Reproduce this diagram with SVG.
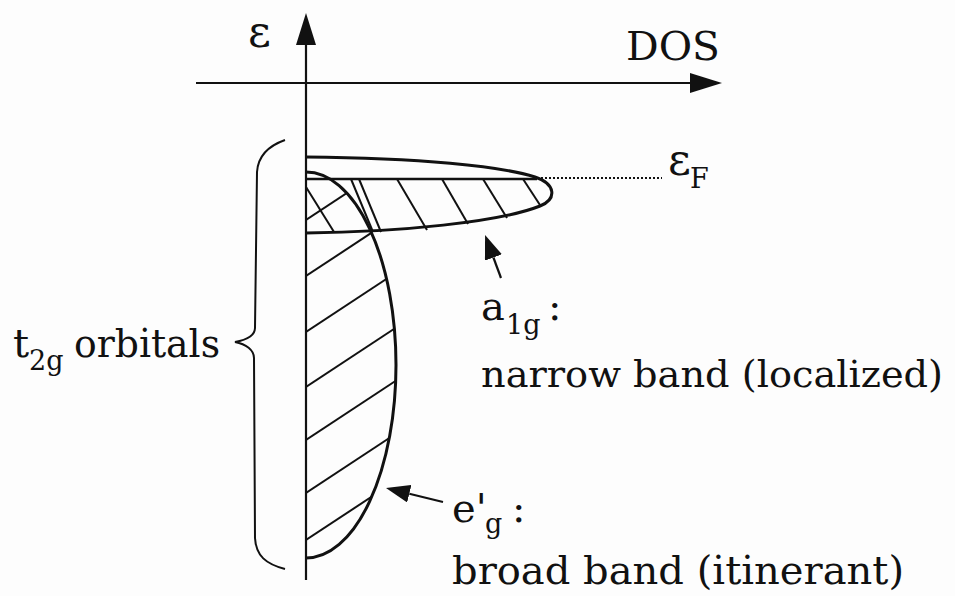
<svg xmlns="http://www.w3.org/2000/svg" width="955" height="596" viewBox="0 0 955 596">
  <style>
    .bg { fill: #fdfdfd; }
    .axis { stroke: #111; stroke-width: 2.2; fill: none; }
    .outline { stroke: #111; stroke-width: 3; fill: none; }
    .hatch { stroke: #111; stroke-width: 2; fill: none; }
    .brace { stroke: #111; stroke-width: 2; fill: none; }
    .dotted { stroke: #111; stroke-width: 2; stroke-dasharray: 2 2; fill: none; }
    text { font-family: 'DejaVu Serif', serif; font-size: 40px; fill: #111; }
    .sub { font-size: 27px; }
    .eps { font-size: 44px; }
  </style>
  <defs>
    <marker id="bigHead" viewBox="0 0 32 20" markerWidth="32" markerHeight="20" markerUnits="userSpaceOnUse" refX="0" refY="10" orient="auto">
      <path d="M0,0 L32,10 L0,20 Z" fill="#111"/>
    </marker>
    <marker id="smallHead" viewBox="0 0 24 18" markerWidth="24" markerHeight="18" markerUnits="userSpaceOnUse" refX="0" refY="9" orient="auto">
      <path d="M0,0 L24,9 L0,18 Z" fill="#111"/>
    </marker>
    <clipPath id="egClip">
      <path d="M306,172 A90,193 0 0 1 306,558 Z"/>
    </clipPath>
  </defs>

  <rect class="bg" x="0" y="0" width="955" height="596"/>

  <g id="axes">
    <line class="axis" x1="306" y1="580" x2="306" y2="45" marker-end="url(#bigHead)"/>
    <line class="axis" x1="196" y1="83" x2="690" y2="83" marker-end="url(#bigHead)"/>
    <text class="eps" x="248" y="47">ε</text>
    <text x="626" y="60" textLength="94" lengthAdjust="spacingAndGlyphs">DOS</text>
  </g>

  <g id="eg-band">
    <g clip-path="url(#egClip)">
      <line class="hatch" x1="306" y1="220" x2="400" y2="158"/>
      <line class="hatch" x1="306" y1="276" x2="400" y2="214"/>
      <line class="hatch" x1="306" y1="332" x2="400" y2="270"/>
      <line class="hatch" x1="306" y1="387" x2="400" y2="325"/>
      <line class="hatch" x1="306" y1="440" x2="400" y2="378"/>
      <line class="hatch" x1="306" y1="493" x2="400" y2="431"/>
      <line class="hatch" x1="306" y1="540" x2="400" y2="478"/>
    </g>
    <path class="outline" d="M306,172 A90,193 0 0 1 306,558"/>
  </g>

  <g id="a1g-band">
    <line class="hatch" x1="306" y1="187" x2="334" y2="232"/>
    <line class="hatch" x1="351" y1="179" x2="373" y2="232"/>
    <line class="hatch" x1="359" y1="179" x2="381" y2="232"/>
    <line class="hatch" x1="397" y1="179" x2="427" y2="230"/>
    <line class="hatch" x1="442" y1="179" x2="468" y2="224"/>
    <line class="hatch" x1="483" y1="179" x2="507" y2="218"/>
    <line class="hatch" x1="523" y1="179" x2="540" y2="205"/>
    <path class="outline" d="M306,157 C420,158 500,166 535,177 C556,184 557,199 540,206 C500,222 400,232 306,233"/>
    <line class="outline" x1="306" y1="179" x2="537" y2="179" style="stroke-width:2.5"/>
  </g>

  <g id="fermi">
    <line class="dotted" x1="537" y1="178" x2="662" y2="178"/>
    <text class="eps" x="668" y="175">ε<tspan class="sub" x="690" y="188">F</tspan></text>
  </g>

  <g id="t2g">
    <path class="brace" d="M285,140 C268,146 258,156 257,172 L255,328 C255,336 246,340 235,342 C246,344 254,350 254,358 L255,538 C256,556 266,564 285,569"/>
    <text x="13" y="357">t<tspan class="sub" x="29" y="370">2g</tspan></text>
    <text x="74" y="357" textLength="146" lengthAdjust="spacingAndGlyphs">orbitals</text>
  </g>

  <g id="a1g-label">
    <text x="481" y="320">a<tspan class="sub" x="506" y="334">1g</tspan><tspan x="548" y="320">:</tspan></text>
    <text x="481" y="387" style="font-size:38px" textLength="462" lengthAdjust="spacingAndGlyphs">narrow band (localized)</text>
  </g>

  <g id="eg-label">
    <text x="452" y="522">e'<tspan class="sub" x="485" y="533">g</tspan><tspan x="512" y="522">:</tspan></text>
    <text x="452" y="584" textLength="452" lengthAdjust="spacingAndGlyphs">broad band (itinerant)</text>
  </g>

  <g id="connectors">
    <line class="axis" x1="501" y1="278" x2="493.4" y2="257.5" marker-end="url(#smallHead)"/>
    <line class="axis" x1="443" y1="502" x2="409.3" y2="493.7" marker-end="url(#smallHead)"/>
  </g>
</svg>
